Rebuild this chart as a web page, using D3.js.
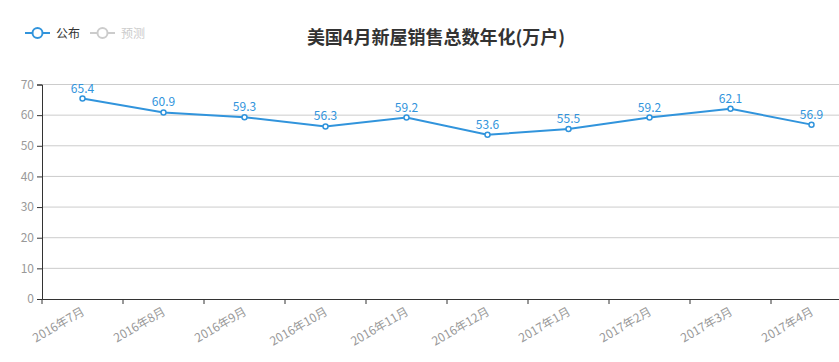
<!DOCTYPE html>
<html>
<head>
<meta charset="utf-8">
<script src="https://cdn.jsdelivr.net/npm/d3@7"></script>
<style>
  body { margin: 0; background: #fff; font-family: "Microsoft YaHei", "Noto Sans CJK SC", sans-serif; overflow: hidden; }
  svg text { font-family: "Microsoft YaHei", "Noto Sans CJK SC", sans-serif; }
</style>
</head>
<body>
<div id="chart"></div>
<script>
var months = ["2016年7月", "2016年8月", "2016年9月", "2016年10月", "2016年11月",
              "2016年12月", "2017年1月", "2017年2月", "2017年3月", "2017年4月"];
var published = [65.4, 60.9, 59.3, 56.3, 59.2, 53.6, 55.5, 59.2, 62.1, 56.9];
var yTicks = [0, 10, 20, 30, 40, 50, 60, 70];
var legendNames = ["公布", "预测"];

var blue = "#3194dc";

// the plot area runs past the right edge of the window, like the original
var margin = {top: 84.5, left: 42},
    plotW = 810,
    plotH = 214.5;

var svg = d3.select("#chart").append("svg")
    .attr("width", 839)
    .attr("height", 362);

// title
svg.append("text")
    .attr("x", 436)
    .attr("y", 44)
    .attr("text-anchor", "middle")
    .attr("font-size", 18)
    .attr("font-weight", "bold")
    .attr("fill", "#333")
    .text("美国4月新屋销售总数年化(万户)");

// legend
var legend = svg.append("g").attr("transform", "translate(25,33)");
legendNames.forEach(function(name, i) {
    var col = i == 0 ? blue : "#ccc";
    var g = legend.append("g").attr("transform", "translate(" + (i * 65) + ",0)");
    g.append("line")
        .attr("x1", 0).attr("x2", 25)
        .attr("stroke", col).attr("stroke-width", 2);
    g.append("circle")
        .attr("cx", 12.5).attr("r", 5)
        .attr("fill", "#fff").attr("stroke", col).attr("stroke-width", 2);
    g.append("text")
        .attr("x", 31).attr("y", 4.5)
        .attr("font-size", 12)
        .attr("fill", i == 0 ? "#333" : "#ccc")
        .text(name);
});

var plot = svg.append("g")
    .attr("transform", "translate(" + margin.left + "," + margin.top + ")");

var x = d3.scaleBand().domain(months).range([0, plotW]);
var y = d3.scaleLinear().domain([0, 70]).range([plotH, 0]);

// horizontal grid lines
plot.selectAll(".grid")
    .data(yTicks.slice(1))
    .enter().append("line")
    .attr("x1", 0).attr("x2", plotW)
    .attr("y1", function(d) { return y(d); })
    .attr("y2", function(d) { return y(d); })
    .attr("stroke", "#ccc");

// y axis
var yAxis = plot.append("g")
    .call(d3.axisLeft(y).tickValues(yTicks).tickSizeOuter(0).tickSize(5).tickPadding(3));
yAxis.select(".domain").attr("stroke", "#333");
yAxis.selectAll(".tick line").attr("stroke", "#333");
yAxis.selectAll(".tick text").attr("fill", "#999").attr("font-size", 12);

// x axis
var xAxis = plot.append("g")
    .attr("transform", "translate(0," + plotH + ")")
    .call(d3.axisBottom(x).tickSize(0).tickSizeOuter(0));
xAxis.select(".domain").attr("stroke", "#333");
xAxis.selectAll(".tick line").remove();
// ticks on band edges
xAxis.selectAll(".edge")
    .data(months)
    .enter().append("line")
    .attr("x1", function(d) { return x(d); })
    .attr("x2", function(d) { return x(d); })
    .attr("y1", 0).attr("y2", 5)
    .attr("stroke", "#333");
xAxis.selectAll(".tick text")
    .attr("fill", "#999")
    .attr("font-size", 12)
    .attr("text-anchor", "end")
    .attr("dy", null)
    .attr("y", 0)
    .attr("transform", "translate(3,15) rotate(-30)");

// line
var line = d3.line()
    .x(function(d, i) { return x(months[i]) + x.bandwidth() / 2; })
    .y(function(d) { return y(d); });

plot.append("path")
    .datum(published)
    .attr("d", line)
    .attr("fill", "none")
    .attr("stroke", blue)
    .attr("stroke-width", 2);

plot.selectAll(".dot")
    .data(published)
    .enter().append("circle")
    .attr("cx", function(d, i) { return x(months[i]) + x.bandwidth() / 2; })
    .attr("cy", function(d) { return y(d); })
    .attr("r", 2.5)
    .attr("fill", "#fff")
    .attr("stroke", blue)
    .attr("stroke-width", 1.5);

plot.selectAll(".lbl")
    .data(published)
    .enter().append("text")
    .attr("x", function(d, i) { return x(months[i]) + x.bandwidth() / 2; })
    .attr("y", function(d) { return y(d) - 6; })
    .attr("text-anchor", "middle")
    .attr("font-size", 12)
    .attr("fill", blue)
    .text(function(d) { return d.toFixed(1); });
</script>
</body>
</html>
